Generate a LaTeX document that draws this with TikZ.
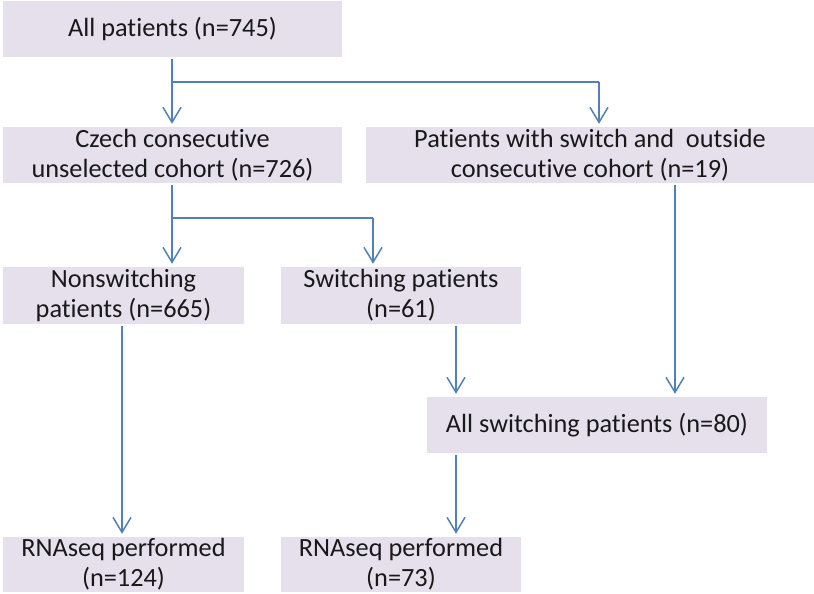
\documentclass[tikz,border=0pt]{standalone}
\usepackage{fontspec}
\setmainfont{Carlito}[Ligatures={NoCommon}]
\usetikzlibrary{arrows.meta}
\definecolor{boxfill}{HTML}{E5E0EC}
\definecolor{flowblue}{HTML}{4F81BD}
\tikzset{
  box/.style={fill=boxfill, inner sep=0pt, align=center, text=black!90,
    font=\fontsize{26.3}{30}\selectfont},
  link/.style={draw=flowblue, line width=1.5pt},
  flow/.style={link, -{Straight Barb[length=15pt,width=18pt]}, shorten <=2pt, shorten >=3pt}
}
\begin{document}
\begin{tikzpicture}[x=1pt,y=-1pt]
\useasboundingbox (0,0) rectangle (814,594);
\node[box, minimum width=339pt, minimum height=56pt] (all) at (172.5,29) {All patients (n=745)};
\node[box, minimum width=339pt, minimum height=56pt] (czech) at (172.5,155) {Czech consecutive\\unselected cohort (n=726)};
\node[box, minimum width=448pt, minimum height=56pt] (outside) at (590,155) {Patients with switch and\ \ outside\\consecutive cohort (n=19)};
\node[box, minimum width=241pt, minimum height=57pt] (nonsw) at (123.5,295.5) {Nonswitching\\patients (n=665)};
\node[box, minimum width=240pt, minimum height=57pt] (sw) at (401,295.5) {Switching patients\\(n=61)};
\node[box, minimum width=340pt, minimum height=56pt] (allsw) at (597,425) {All switching patients (n=80)};
\node[box, minimum width=241pt, minimum height=55pt] (rna1) at (123.5,564.5) {RNAseq performed\\(n=124)};
\node[box, minimum width=240pt, minimum height=55pt] (rna2) at (401,564.5) {RNAseq performed\\(n=73)};
\coordinate (b0) at (172,82);
\coordinate (b1) at (599,82);
\coordinate (b2) at (172,218);
\coordinate (b3) at (373,218);
\draw[flow] (all.south -| b0) -- (czech.north -| b0);
\draw[link] (b0) -- (b1);
\draw[flow, shorten <=0pt] (b1) -- (outside.north -| b1);
\draw[flow] (czech.south -| b2) -- (nonsw.north -| b2);
\draw[link] (b2) -- (b3);
\draw[flow, shorten <=0pt] (b3) -- (sw.north -| b3);
\draw[flow] (nonsw.south -| 122,0) -- (rna1.north -| 122,0);
\draw[flow] (sw.south -| 456,0) -- (allsw.north -| 456,0);
\draw[flow] (outside.south -| 675,0) -- (allsw.north -| 675,0);
\draw[flow] (allsw.south -| 456,0) -- (rna2.north -| 456,0);

\end{tikzpicture}
\end{document}
